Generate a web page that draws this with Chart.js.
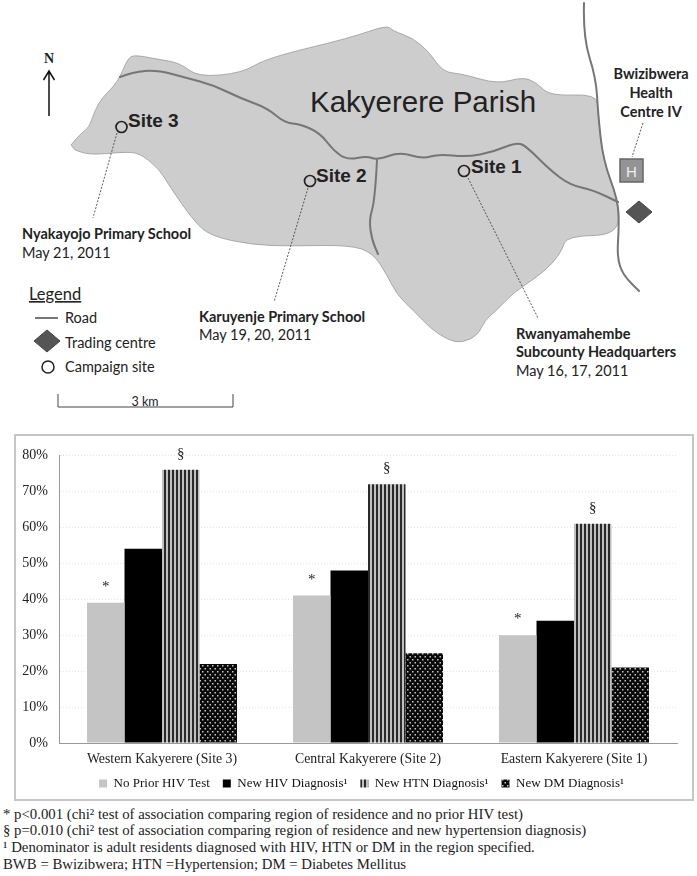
<!DOCTYPE html>
<html>
<head>
<meta charset="utf-8">
<title>Kakyerere Parish</title>
<style>
  html, body { margin: 0; padding: 0; background: #fff; }
  body { position: relative; width: 697px; height: 876px; overflow: hidden; }
  #map { position: absolute; left: 0; top: 0; }
  #map text { font-family: Lato, sans-serif; font-size: 14.5px; fill: #222; }
  #map .b { font-weight: bold; }
  #map .site { font-family: "Liberation Sans", sans-serif; font-weight: bold; font-size: 19px; }
  #frame { position: absolute; left: 14px; top: 434px; width: 676px; height: 363px; border: 2px solid #c6c6c6; }
  #bars { display: block; }
  #notes { position: absolute; left: 3px; top: 805.5px; font-family: "Liberation Serif", serif; font-size: 14.8px; line-height: 16.7px; color: #222; white-space: nowrap; }
</style>
</head>
<body>
<svg id="map" width="697" height="430">
  <path class="smooth" data-closed="1" fill="#cdcdcd" stroke="#9a9a9a" stroke-width="0.8" data-pts="71,145 80,134 89,128 95,110 102,98 113,87 120,77 128,58 135,55 157,59 180,63 198,77 242,73 267,58 350,38 387,25 393,31 413,38 430,53 443,72 463,74 497,84 523,77 537,83 550,96 597,94 598,113 603,160 618,200 619,235 567,236 562,250 553,263 537,277 513,293 497,310 485,320 478,335 462,343 448,340 430,328 415,312 397,295 387,275 373,253 350,245 290,246 253,245 210,236 193,220 170,187 160,170 140,153 123,152 90,155 75,150"/>
  <g fill="none" stroke="#767676" stroke-width="2" stroke-linejoin="round" stroke-linecap="round">
    <path class="smooth" data-pts="120,77 133,72 157,70 187,78 213,85 240,98 267,108 285,123 300,124 320,133 333,150 347,160 367,156 377,160 400,152 423,159 438,154 467,157 493,152 517,142 527,147 550,170 570,185 593,190 618,202"/>
    <path class="smooth" data-pts="377,160 375,200 369,220 372,240 378,254"/>
    <path class="smooth" data-pts="584,3 583,37 596,78 598,113 603,160 618,200 619,227 617,257 623,275 639,291"/>
  </g>
  <g stroke="#333" stroke-width="0.8" stroke-dasharray="2 1.5" fill="none">
    <path d="M117 133 L93 218"/>
    <path d="M308 188 L274 302"/>
    <path d="M468 178 L538 318"/>
    <path d="M643 123 L632 157"/>
  </g>
  <g fill="none" stroke="#222" stroke-width="1.7">
    <circle cx="121.5" cy="127" r="5.5"/>
    <circle cx="310" cy="181" r="5.5"/>
    <circle cx="464" cy="171" r="5.5"/>
  </g>
  <text class="site" x="128" y="127">Site 3</text>
  <text class="site" x="316" y="182">Site 2</text>
  <text class="site" x="471" y="173">Site 1</text>
  <text x="310" y="111.5" style="font-family:'Liberation Sans',sans-serif;font-size:29.5px;">Kakyerere Parish</text>

  <rect x="620" y="159" width="23" height="23" fill="#949494" stroke="#666" stroke-width="1.5"/>
  <text x="631.5" y="177" text-anchor="middle" style="font-family:'Liberation Sans',sans-serif;font-size:15px;fill:#eee;">H</text>
  <path d="M639 201 L652 212 L639 223 L626 212 Z" fill="#555" stroke="#444"/>

  <text class="b" x="22" y="239">Nyakayojo Primary School</text>
  <text x="22" y="258">May 21, 2011</text>
  <text class="b" x="199" y="322">Karuyenje Primary School</text>
  <text x="199" y="340">May 19, 20, 2011</text>
  <text class="b" x="516" y="339">Rwanyamahembe</text>
  <text class="b" x="516" y="357">Subcounty Headquarters</text>
  <text x="516" y="376">May 16, 17, 2011</text>
  <text class="b" x="651" y="79" text-anchor="middle">Bwizibwera</text>
  <text class="b" x="651" y="98" text-anchor="middle">Health</text>
  <text class="b" x="651" y="117" text-anchor="middle">Centre IV</text>

  <text x="49" y="63" text-anchor="middle" style="font-family:'Liberation Serif',serif;font-weight:bold;font-size:14px;">N</text>
  <path d="M49 116 L49 72 M43.5 80 L49 71 L54.5 80" fill="none" stroke="#111" stroke-width="1.5"/>

  <text x="29" y="300" text-decoration="underline" style="font-size:16.5px;">Legend</text>
  <path d="M35 318 L58 318" stroke="#777" stroke-width="2"/>
  <path d="M47 330 L60 341 L47 352 L34 341 Z" fill="#555" stroke="#444"/>
  <circle cx="48" cy="367" r="6" fill="#fff" stroke="#222" stroke-width="1.5"/>
  <text x="65" y="323">Road</text>
  <text x="65" y="348">Trading centre</text>
  <text x="65" y="372">Campaign site</text>

  <path d="M58 394 L58 407 L233 407 L233 394" fill="none" stroke="#444" stroke-width="1"/>
  <text x="145" y="406" text-anchor="middle" style="font-size:12.5px;">3 km</text>
</svg>

<div id="frame"><canvas id="bars" width="676" height="364"></canvas></div>

<div id="notes">
  * p&lt;0.001 (chi² test of association comparing region of residence and no prior HIV test)<br>
  § p=0.010 (chi² test of association comparing region of residence and new hypertension diagnosis)<br>
  ¹ Denominator is adult residents diagnosed with HIV, HTN or DM in the region specified.<br>
  BWB = Bwizibwera; HTN =Hypertension; DM = Diabetes Mellitus
</div>

<script src="https://cdn.jsdelivr.net/npm/chart.js@4"></script>
<script>
var categories = ["Western Kakyerere (Site 3)", "Central Kakyerere (Site 2)", "Eastern Kakyerere (Site 1)"];
var noPriorTest = [39, 41, 30];
var newHiv = [54, 48, 34];
var newHtn = [76, 72, 61];
var newDm = [22, 25, 21];
var noPriorMarks = ["*", "*", "*"];
var htnMarks = ["§", "§", "§"];
var tickValues = [0, 10, 20, 30, 40, 50, 60, 70, 80];

//round off the map outline and the roads
document.querySelectorAll("path.smooth").forEach((el) => {
  var pts = el.dataset.pts.split(" ").map((p) => p.split(",").map(Number));
  var closed = el.dataset.closed == "1";
  var d = "M" + pts[0].join(" ");
  for (var i = 1; i < pts.length - 1; i++) {
    var mx = (pts[i][0] + pts[i + 1][0]) / 2;
    var my = (pts[i][1] + pts[i + 1][1]) / 2;
    d += " Q" + pts[i].join(" ") + " " + mx + " " + my;
  }
  d += " L" + pts[pts.length - 1].join(" ");
  el.setAttribute("d", closed ? d + " Z" : d);
});

//vertical stripes for the HTN bars
const stripes = () => {
  var c = document.createElement("canvas");
  c.width = 4;
  c.height = 4;
  var ctx = c.getContext("2d");
  ctx.fillStyle = "#c0c0c0";
  ctx.fillRect(0, 0, 4, 4);
  ctx.fillStyle = "#2a2a2a";
  ctx.fillRect(0, 0, 2, 4);
  return ctx.createPattern(c, "repeat");
};

//black with small light dots for the DM bars
const dots = () => {
  var c = document.createElement("canvas");
  c.width = 5;
  c.height = 6;
  var ctx = c.getContext("2d");
  ctx.fillStyle = "#0a0a0a";
  ctx.fillRect(0, 0, 5, 6);
  ctx.fillStyle = "#c4c4c4";
  ctx.fillRect(1, 1, 1.5, 1.5);
  ctx.fillRect(3.5, 4, 1.5, 1.5);
  return ctx.createPattern(c, "repeat");
};

//draws the * and § above the bars
const markPlugin = {
  id: "marks",
  afterLayout: (chart) => {
    // legend sits a bit right of the centre in the original
    chart.legend.left += 15;
    chart.legend.right += 15;
    // labels get clipped to the scale box, so let them hang below it
    chart.scales.x.bottom += 10;
  },
  afterDatasetsDraw: (chart) => {
    var ctx = chart.ctx;
    ctx.save();
    ctx.font = "15px 'Liberation Serif'";
    ctx.fillStyle = "#222";
    ctx.textAlign = "center";
    ctx.textBaseline = "middle";
    chart.data.datasets.forEach((ds, i) => {
      if (!ds.marks) return;
      chart.getDatasetMeta(i).data.forEach((bar, j) => {
        ctx.fillText(ds.marks[j], bar.x, bar.y - 16);
      });
    });
    ctx.restore();
  },
};

var chart = new Chart(document.getElementById("bars").getContext("2d"), {
  type: "bar",
  data: {
    labels: categories,
    datasets: [
      { label: "No Prior HIV Test", data: noPriorTest, backgroundColor: "#c4c4c4", marks: noPriorMarks },
      { label: "New HIV Diagnosis¹", data: newHiv, backgroundColor: "#000" },
      { label: "New HTN Diagnosis¹", data: newHtn, backgroundColor: stripes(), marks: htnMarks },
      { label: "New DM Diagnosis¹", data: newDm, backgroundColor: dots() },
    ],
  },
  options: {
    responsive: false,
    animation: false,
    layout: { padding: { top: 18, right: 15, left: 0, bottom: 0 } },
    datasets: { bar: { categoryPercentage: 0.728, barPercentage: 1 } },
    plugins: {
      tooltip: { enabled: false },
      legend: {
        position: "bottom",
        labels: { boxWidth: 8, boxHeight: 8, padding: 13, color: "#111", font: { family: "'Liberation Serif'", size: 13 } },
      },
    },
    scales: {
      x: {
        afterFit: (scale) => { scale.height = 21; },
        grid: { display: false, drawTicks: false },
        border: { color: "#999" },
        ticks: { color: "#222", padding: 8, maxRotation: 0, font: { family: "'Liberation Serif'", size: 13.8 } },
      },
      y: {
        min: 0,
        max: 80,
        afterFit: (scale) => { scale.width = 43; },
        afterBuildTicks: (scale) => { scale.ticks = tickValues.map((v) => ({ value: v })); },
        grid: { color: "#e4e4e4", drawTicks: false },
        border: { color: "#999", dash: [1, 2] },
        ticks: { color: "#222", padding: 11, font: { family: "'Liberation Serif'", size: 14 }, callback: (v) => v + "%" },
      },
    },
  },
  plugins: [markPlugin],
});
</script>
</body>
</html>
